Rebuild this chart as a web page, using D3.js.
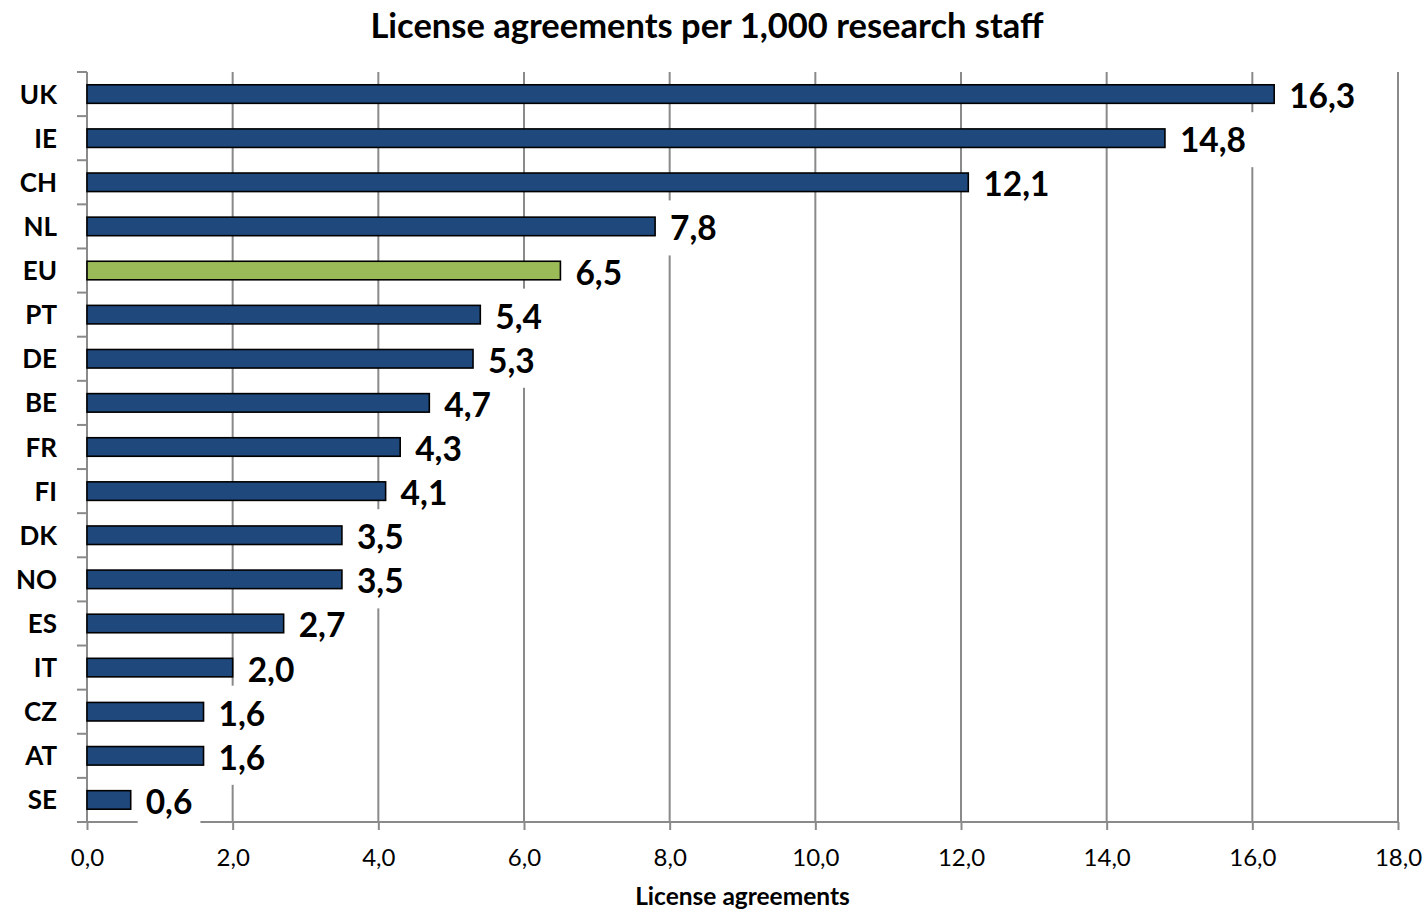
<!DOCTYPE html>
<html>
<head>
<meta charset="utf-8">
<script src="https://cdn.jsdelivr.net/npm/d3@7"></script>
<style>
  html, body { margin: 0; padding: 0; background: #fff; }
  svg { display: block; }
  text { font-family: Lato, "Open Sans", sans-serif; fill: #000; }
</style>
</head>
<body>
<svg id="chart" width="1428" height="912"></svg>
<script>
// License agreements per 1,000 research staff, by country
const categories = ["UK", "IE", "CH", "NL", "EU", "PT", "DE", "BE", "FR", "FI", "DK", "NO", "ES", "IT", "CZ", "AT", "SE"];
const values = [16.3, 14.8, 12.1, 7.8, 6.5, 5.4, 5.3, 4.7, 4.3, 4.1, 3.5, 3.5, 2.7, 2.0, 1.6, 1.6, 0.6];
const highlighted = ["EU"];
const xTicks = [0, 2, 4, 6, 8, 10, 12, 14, 16, 18];
const titleText = "License agreements per 1,000 research staff";
const xAxisTitle = "License agreements";

const data = categories.map((c, i) => ({ cat: c, value: values[i] }));

const W = 1428, H = 912;
const plot = { left: 87, right: 1398, top: 72, bottom: 822 };

const locale = d3.formatLocale({ decimal: ",", thousands: ".", grouping: [3], currency: ["", "€"] });
const fmt = locale.format(".1f");

const svg = d3.select("#chart");

const x = d3.scaleLinear().domain([0, 18]).range([plot.left, plot.right]);
const y = d3.scaleBand()
  .domain(categories)
  .range([plot.top, plot.bottom])
  .paddingInner(0.58)
  .paddingOuter(0.29);

const gridColor = "#8a8a8a";

// vertical gridlines
svg.append("g")
  .selectAll("line")
  .data(xTicks.filter(t => t > 0))
  .join("line")
  .attr("x1", d => x(d)).attr("x2", d => x(d))
  .attr("y1", plot.top).attr("y2", plot.bottom)
  .attr("stroke", gridColor).attr("stroke-width", 2);

// x axis
const xAxis = svg.append("g")
  .attr("transform", `translate(0,${plot.bottom})`)
  .call(d3.axisBottom(x).tickValues(xTicks).tickFormat(fmt).tickSize(8).tickPadding(10).tickSizeOuter(0));
xAxis.select(".domain").remove();
xAxis.selectAll(".tick line").attr("stroke", gridColor).attr("stroke-width", 2);
xAxis.selectAll(".tick text")
  .attr("font-family", "Lato, sans-serif")
  .attr("font-size", 24)
  .attr("fill", "#000")
  .attr("dy", null)
  .attr("y", 44);
xAxis.append("line")
  .attr("x1", plot.left - 10).attr("x2", plot.right)
  .attr("y1", 0).attr("y2", 0)
  .attr("stroke", gridColor).attr("stroke-width", 2);

// y axis with ticks at category boundaries
const yAxis = svg.append("g");
yAxis.append("line")
  .attr("x1", plot.left).attr("x2", plot.left)
  .attr("y1", plot.top).attr("y2", plot.bottom)
  .attr("stroke", gridColor).attr("stroke-width", 2);
const boundaries = d3.range(categories.length + 1).map(i => plot.top + i * y.step());
yAxis.selectAll("line.tick")
  .data(boundaries)
  .join("line")
  .attr("class", "tick")
  .attr("x1", plot.left - 10).attr("x2", plot.left)
  .attr("y1", d => d).attr("y2", d => d)
  .attr("stroke", gridColor).attr("stroke-width", 2);

yAxis.selectAll("text")
  .data(categories)
  .join("text")
  .attr("x", 57)
  .attr("y", d => y(d) + y.bandwidth() / 2 + 9.5)
  .attr("text-anchor", "end")
  .attr("font-weight", 700)
  .attr("font-size", 26)
  .text(d => d);

// value labels (white boxes hide the gridlines behind them)
const labelG = svg.append("g");
const labels = labelG.selectAll("g")
  .data(data)
  .join("g");
labels.append("text")
  .attr("x", d => x(d.value) + 15)
  .attr("y", d => y(d.cat) + y.bandwidth() / 2 + 14)
  .attr("font-weight", 700)
  .attr("font-size", 33.5)
  .text(d => fmt(d.value));
labels.each(function (d) {
  const g = d3.select(this);
  const w = g.select("text").node().getComputedTextLength();
  const cy = y(d.cat) + y.bandwidth() / 2 + 2;
  g.insert("rect", "text")
    .attr("x", x(d.value) + 7)
    .attr("y", cy - 28)
    .attr("width", w + 16)
    .attr("height", 55)
    .attr("fill", "#fff");
});

// bars
svg.append("g")
  .selectAll("rect")
  .data(data)
  .join("rect")
  .attr("x", x(0))
  .attr("y", d => y(d.cat))
  .attr("width", d => x(d.value) - x(0))
  .attr("height", y.bandwidth())
  .attr("fill", d => highlighted.includes(d.cat) ? "#9bbb59" : "#1f497d")
  .attr("stroke", "#000")
  .attr("stroke-width", 1.6);

// titles
svg.append("text")
  .attr("x", 707)
  .attr("y", 38)
  .attr("text-anchor", "middle")
  .attr("font-weight", 700)
  .attr("font-size", 34.5)
  .text(titleText);

svg.append("text")
  .attr("x", (plot.left + plot.right) / 2)
  .attr("y", 905)
  .attr("text-anchor", "middle")
  .attr("font-weight", 700)
  .attr("font-size", 24.5)
  .text(xAxisTitle);
</script>
</body>
</html>
